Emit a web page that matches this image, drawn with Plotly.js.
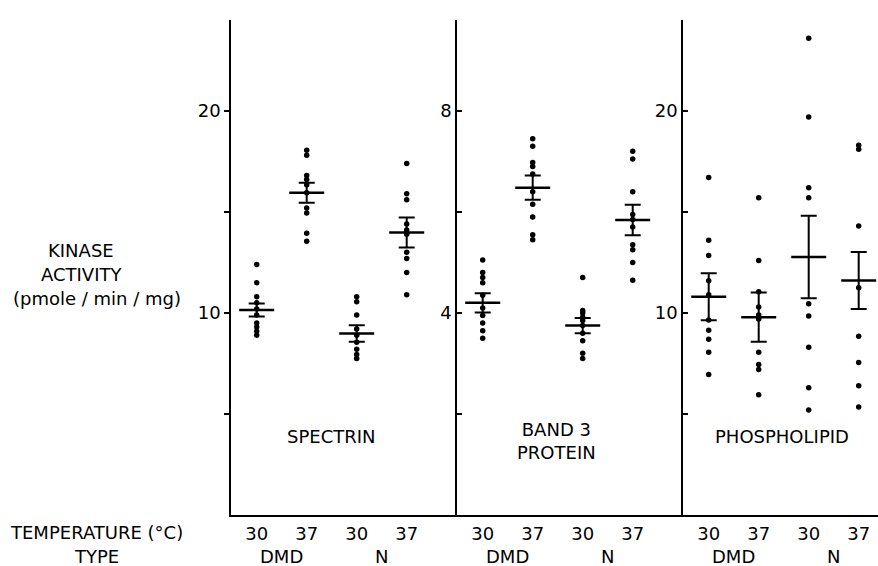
<!DOCTYPE html>
<html>
<head>
<meta charset="utf-8">
<script src="https://cdn.plot.ly/plotly-3.0.1.min.js"></script>
<style>html,body{margin:0;padding:0;background:#fff;}#chart{width:878px;height:566px;}</style>
</head>
<body>
<div id="chart"></div>
<script>
// ---- data ----
const categories = ['DMD 30', 'DMD 37', 'N 30', 'N 37'];
const tempLabels = ['30', '37', '30', '37'];
const typeLabels = ['DMD', 'N'];
const panelNames = ['SPECTRIN', 'BAND 3<br>PROTEIN', 'PHOSPHOLIPID'];

// individual points, one array per column (DMD 30, DMD 37, N 30, N 37)
const spectrinDMD30 = [12.4, 11.5, 10.8, 10.5, 10.2, 9.9, 9.5, 9.3, 9.1, 8.9];
const spectrinDMD37 = [18.05, 17.8, 16.8, 16.6, 16.35, 15.95, 15.2, 14.95, 13.95, 13.55];
const spectrinN30   = [10.8, 10.55, 9.9, 9.2, 8.9, 8.55, 8.2, 7.95, 7.75];
const spectrinN37   = [17.4, 15.9, 15.6, 14.4, 14.1, 13.9, 13.0, 12.7, 12.0, 10.9];
const spectrinMean  = [10.15, 15.95, 8.98, 13.98];
const spectrinSE    = [0.32, 0.5, 0.41, 0.74];

const band3DMD30 = [5.05, 4.8, 4.7, 4.6, 4.35, 4.1, 3.95, 3.8, 3.65, 3.5];
const band3DMD37 = [7.45, 7.3, 6.98, 6.9, 6.75, 6.4, 6.15, 5.9, 5.55, 5.45];
const band3N30   = [4.7, 4.05, 4.0, 3.92, 3.85, 3.75, 3.6, 3.45, 3.2, 3.1];
const band3N37   = [7.2, 7.05, 6.4, 5.95, 5.85, 5.7, 5.35, 5.25, 5.0, 4.65];
const band3Mean  = [4.2, 6.48, 3.75, 5.84];
const band3SE    = [0.19, 0.24, 0.15, 0.3];

const phosDMD30 = [16.7, 13.6, 12.85, 11.6, 10.9, 9.65, 9.15, 8.7, 8.05, 6.95];
const phosDMD37 = [15.7, 12.6, 11.05, 10.3, 9.9, 9.7, 8.05, 7.45, 7.2, 5.95];
const phosN30   = [23.6, 19.7, 16.2, 15.7, 10.45, 9.85, 8.3, 6.3, 5.2];
const phosN37   = [18.3, 18.1, 14.3, 11.25, 8.85, 7.55, 6.4, 5.35];
const phosMean  = [10.8, 9.79, 12.77, 11.61];
const phosSE    = [1.16, 1.22, 2.04, 1.41];

const spectrinTicks = [5, 10, 15, 20];
const spectrinTickText = ['', '10', '', '20'];
const band3Ticks = [2, 4, 6, 8];
const band3TickText = ['', '4', '', '8'];

// ---- build traces ----
const FONT = 'DejaVu Sans, Arial, sans-serif';
const panels = [
  {cols: [spectrinDMD30, spectrinDMD37, spectrinN30, spectrinN37], mean: spectrinMean, se: spectrinSE},
  {cols: [band3DMD30, band3DMD37, band3N30, band3N37], mean: band3Mean, se: band3SE},
  {cols: [phosDMD30, phosDMD37, phosN30, phosN37], mean: phosMean, se: phosSE}
];
const traces = [];
panels.forEach((p, i) => {
  const xa = i === 0 ? 'x' : 'x' + (i + 1);
  const ya = i === 0 ? 'y' : 'y' + (i + 1);
  const xs = [], ys = [];
  p.cols.forEach((col, c) => col.forEach(v => { xs.push(categories[c]); ys.push(v); }));
  traces.push({type: 'scatter', mode: 'markers', x: xs, y: ys, xaxis: xa, yaxis: ya,
    marker: {color: '#000', size: 5.5}, hoverinfo: 'y', showlegend: false, cliponaxis: false});
  traces.push({type: 'scatter', mode: 'markers', x: categories, y: p.mean, xaxis: xa, yaxis: ya,
    marker: {symbol: 'line-ew', size: 25, color: '#000', line: {color: '#000', width: 2.5}},
    error_y: {type: 'data', array: p.se, visible: true, color: '#000', thickness: 2, width: 8},
    showlegend: false, cliponaxis: false});
});

// ---- layout ----
const W = 878, H = 566;
const px = v => v / W;          // helper: pixel -> paper x
const py = v => (H - v) / H;    // helper: pixel -> paper y
const yDom = [py(515), py(20)];
const FS = 18;
const xAxisBase = {
  type: 'category', showline: true, linecolor: '#000', linewidth: 1.5, showgrid: false, zeroline: false,
  tickvals: categories, ticktext: tempLabels, ticks: 'outside', ticklen: 2, tickcolor: 'rgba(0,0,0,0)',
  tickfont: {family: FONT, size: FS, color: '#000'}, fixedrange: true
};
const yAxisBase = {
  showline: true, linecolor: '#000', linewidth: 1.5, showgrid: false, zeroline: false, ticklen: 5,
  tickcolor: '#000', tickwidth: 1.5, tickfont: {family: FONT, size: FS, color: '#000'}, fixedrange: true
};
const layout = {
  width: W, height: H, margin: {l: 0, r: 0, t: 0, b: 0},
  paper_bgcolor: '#fff', plot_bgcolor: '#fff', showlegend: false,
  xaxis:  Object.assign({}, xAxisBase, {domain: [px(230.7), px(456.7)], range: [-0.52, 4.0], anchor: 'y'}),
  xaxis2: Object.assign({}, xAxisBase, {domain: [px(456.7), px(682.7)], range: [-0.52, 4.0], anchor: 'y2'}),
  xaxis3: Object.assign({}, xAxisBase, {domain: [px(682.7), 1], range: [-0.52, 3.386], anchor: 'y3'}),
  yaxis:  Object.assign({}, yAxisBase, {domain: yDom, range: [0, 24.5], anchor: 'x', ticks: 'outside',
            tickvals: spectrinTicks, ticktext: spectrinTickText}),
  yaxis2: Object.assign({}, yAxisBase, {domain: yDom, range: [0, 9.8], anchor: 'x2', ticks: 'inside',
            tickvals: band3Ticks, ticktext: band3TickText}),
  yaxis3: Object.assign({}, yAxisBase, {domain: yDom, range: [0, 24.5], anchor: 'x3', ticks: 'inside',
            tickvals: spectrinTicks, ticktext: spectrinTickText}),
  annotations: []
};
const txt = (text, x, y, xref, extra) => Object.assign({
  text: text, x: x, y: y, xref: xref || 'paper', yref: 'paper', showarrow: false,
  xanchor: 'center', yanchor: 'middle', font: {family: FONT, size: FS, color: '#000'}
}, extra || {});
layout.annotations.push(txt('KINASE', px(81), py(250)));
layout.annotations.push(txt('ACTIVITY', px(81), py(274)));
layout.annotations.push(txt('(pmole / min / mg)', px(97), py(298)));
layout.annotations.push(txt('TEMPERATURE (°C)', px(96), py(532)));
layout.annotations.push(txt('TYPE', px(96), py(556)));
['x', 'x2', 'x3'].forEach(xr => {
  layout.annotations.push(txt(typeLabels[0], 0.5, py(556), xr));
  layout.annotations.push(txt(typeLabels[1], 2.5, py(556), xr));
});
layout.annotations.push(txt(panelNames[0], px(331), py(437)));
layout.annotations.push(txt(panelNames[1], px(556), py(441)));
layout.annotations.push(txt(panelNames[2], px(782), py(437)));

Plotly.newPlot('chart', traces, layout, {staticPlot: true, displayModeBar: false});
</script>
</body>
</html>
